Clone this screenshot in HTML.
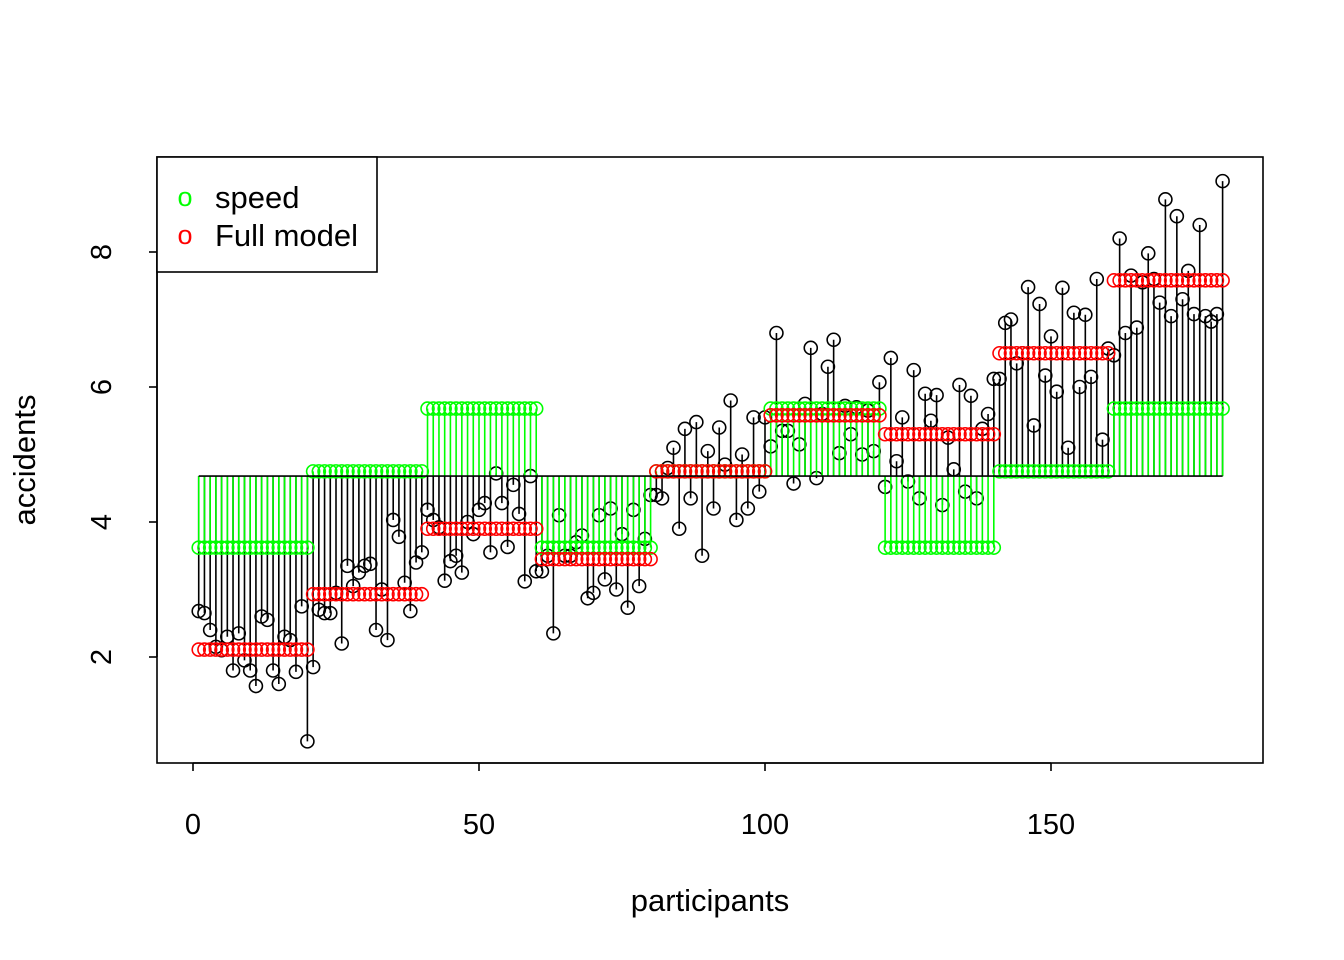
<!DOCTYPE html>
<html><head><meta charset="utf-8"><style>html,body{margin:0;padding:0;background:#fff}svg{display:block}</style></head>
<body>
<svg id="s" width="1344" height="960" xmlns="http://www.w3.org/2000/svg" font-family="Liberation Sans, Arial, sans-serif"></svg>
<script>
var d=[2.68,2.65,2.4,2.15,2.1,2.3,1.8,2.35,1.95,1.8,1.57,2.6,2.55,1.8,1.6,2.3,2.25,1.78,2.75,0.75,
1.85,2.7,2.65,2.65,2.95,2.2,3.35,3.05,3.25,3.35,3.38,2.4,3.0,2.25,4.03,3.78,3.1,2.68,3.4,3.55,
4.18,4.03,3.92,3.13,3.42,3.5,3.25,4.0,3.82,4.18,4.28,3.55,4.72,4.28,3.63,4.55,4.12,3.12,4.68,3.27,
3.27,3.5,2.35,4.1,3.5,3.5,3.7,3.8,2.87,2.95,4.1,3.15,4.2,3.0,3.82,2.73,4.18,3.05,3.75,4.4,
4.4,4.35,4.8,5.1,3.9,5.38,4.35,5.48,3.5,5.05,4.2,5.4,4.85,5.8,4.03,5.0,4.2,5.55,4.45,5.55,
5.12,6.8,5.35,5.35,4.57,5.15,5.75,6.58,4.65,5.6,6.3,6.7,5.02,5.72,5.3,5.7,5.0,5.65,5.05,6.07,
4.52,6.43,4.9,5.55,4.6,6.25,4.35,5.9,5.5,5.88,4.25,5.25,4.78,6.03,4.45,5.87,4.35,5.38,5.6,6.12,
6.12,6.95,7.0,6.35,6.5,7.48,5.43,7.23,6.17,6.75,5.93,7.47,5.1,7.1,6.0,7.07,6.15,7.6,5.22,6.57,
6.47,8.2,6.8,7.65,6.88,7.55,7.98,7.6,7.25,8.78,7.05,8.53,7.3,7.72,7.08,8.4,7.05,6.97,7.08,9.05];
var sp=[3.62,4.75,5.68,3.62,4.75,5.68,3.62,4.75,5.68];
var fm=[2.11,2.93,3.9,3.45,4.75,5.58,5.3,6.5,7.58];
var m=4.68;
function X(i){return 193+5.72*i}
function Y(v){return 792-67.5*v}
var h='';
var g='',k='',r='',gc='',kc='';
for(var i=1;i<=180;i++){var x=X(i).toFixed(2),gi=Math.floor((i-1)/20);
g+='<line x1="'+x+'" x2="'+x+'" y1="'+Y(m)+'" y2="'+Y(sp[gi])+'"/>';
gc+='<circle cx="'+x+'" cy="'+Y(sp[gi])+'" r="6.5"/>';
k+='<line x1="'+x+'" x2="'+x+'" y1="'+Y(m)+'" y2="'+Y(d[i-1])+'"/>';
kc+='<circle cx="'+x+'" cy="'+Y(d[i-1]).toFixed(2)+'" r="6.5"/>';
r+='<circle cx="'+x+'" cy="'+Y(fm[gi])+'" r="6.5"/>';}
h+='<g stroke="#000" stroke-width="1.6">'+k+'</g>';
h+='<g fill="none" stroke="#000" stroke-width="1.6">'+kc+'</g>';
h+='<g stroke="#00ff00" stroke-width="1.6">'+g+'</g>';
h+='<g fill="none" stroke="#00ff00" stroke-width="1.6">'+gc+'</g>';
h+='<g fill="none" stroke="#ff0000" stroke-width="1.6">'+r+'</g>';
h+='<line x1="'+X(1)+'" x2="'+X(180)+'" y1="'+Y(m)+'" y2="'+Y(m)+'" stroke="#000" stroke-width="1.6"/>';
h+='<rect x="157" y="157" width="1106" height="606" fill="none" stroke="#000" stroke-width="1.6"/>';
h+='<g stroke="#000" stroke-width="1.6"><line x1="193" x2="1051" y1="763" y2="763"/>';
[0,50,100,150].forEach(function(t){h+='<line x1="'+X(t)+'" x2="'+X(t)+'" y1="763" y2="771"/>'});
h+='<line x1="157" x2="157" y1="657" y2="252"/>';
[2,4,6,8].forEach(function(t){h+='<line x1="149" x2="157" y1="'+Y(t)+'" y2="'+Y(t)+'"/>'});
h+='</g><g font-size="29" fill="#000" text-anchor="middle">';
[0,50,100,150].forEach(function(t){h+='<text x="'+X(t)+'" y="834">'+t+'</text>'});
[2,4,6,8].forEach(function(t){h+='<text transform="translate(111,'+Y(t)+') rotate(-90)">'+t+'</text>'});
h+='<text x="710" y="911" font-size="31">participants</text><text transform="translate(35,460) rotate(-90)" font-size="31">accidents</text></g>';
h+='<rect x="157" y="157" width="220" height="115" fill="#fff" stroke="#000" stroke-width="1.6"/>';
h+='<g font-size="31"><text x="185" y="206" text-anchor="middle" fill="#00ff00" font-size="27">o</text><text x="215" y="208">speed</text>';
h+='<text x="185" y="244" text-anchor="middle" fill="#ff0000" font-size="27">o</text><text x="215" y="246">Full model</text></g>';
document.getElementById('s').innerHTML=h;
</script>
</body></html>
